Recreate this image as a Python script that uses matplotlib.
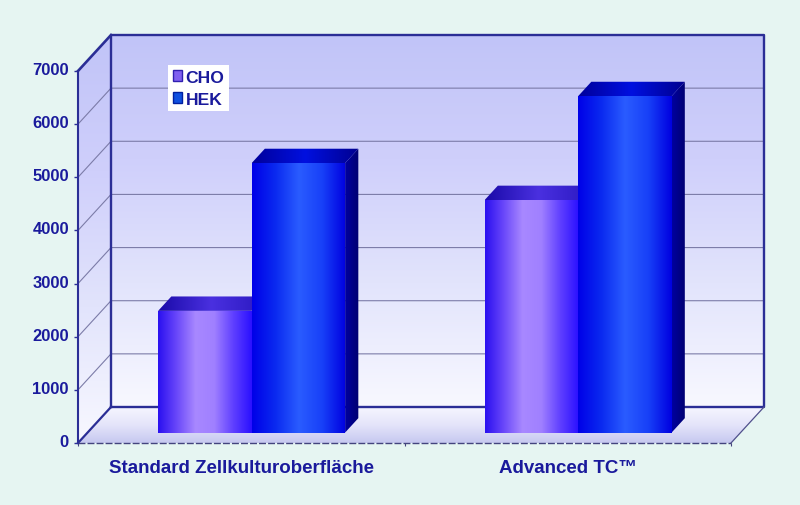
import numpy as np
import matplotlib
matplotlib.use("Agg")
import matplotlib.pyplot as plt
from matplotlib.colors import LinearSegmentedColormap as LSC
from matplotlib.patches import Polygon, Patch
from matplotlib.transforms import ScaledTranslation

categories = ["Standard Zellkulturoberfläche", "Advanced TC™"]
cho = [2290, 4375]
hek = [5070, 6330]
series_names = ["CHO", "HEK"]
yticks = [0, 1000, 2000, 3000, 4000, 5000, 6000, 7000]

plt.rcParams["font.family"] = ["Liberation Sans", "DejaVu Sans"]
BG = "#E6F5F2"
INK = "#1A1A9C"
W, H = 800, 506
fig = plt.figure(figsize=(W / 100, H / 100), dpi=100, facecolor=BG)
ax = fig.add_axes([78 / W, (H - 444) / H, 653 / W, 372 / H])
ax.set_facecolor("none")
XMAX, YMAX = 2.0, 7000.0
DX = 33 / 653 * XMAX
DY = 36 / 372 * YMAX
BAR_W = 93.5 / 653 * XMAX
Z0, Z1 = 0.29, 0.69
X_NUDGE = 0.8 / 653 * XMAX


def P(x, y, z):
    return (x + z * DX, y + z * DY)


def grad(poly, colors, vertical=False, zorder=1):
    poly = np.array(poly)
    cmap = LSC.from_list("g", colors)
    arr = np.linspace(0, 1, 256)
    arr = arr.reshape(-1, 1) if vertical else arr.reshape(1, -1)
    ext = [poly[:, 0].min(), poly[:, 0].max(), poly[:, 1].min(), poly[:, 1].max()]
    im = ax.imshow(arr, cmap=cmap, extent=ext, origin="upper" if vertical else "lower",
                   aspect="auto", zorder=zorder, interpolation="bilinear")
    patch = Polygon(poly, closed=True, transform=ax.transData, facecolor="none", edgecolor="none")
    ax.add_patch(patch)
    patch.set_clip_on(False)
    im.set_clip_path(patch)
    im.set_clip_box(fig.bbox)


wall_cols = ["#C1C4F8", "#CFCFFB", "#E2E4FC", "#F8F8FF"]
# back wall, left wall, floor
grad([P(0, 0, 1), P(XMAX, 0, 1), P(XMAX, YMAX, 1), P(0, YMAX, 1)], wall_cols, True, 1)
grad([P(0, 0, 0), P(0, 0, 1), P(0, YMAX, 1), P(0, YMAX, 0)], wall_cols, True, 1)
grad([P(0, 0, 0), P(XMAX, 0, 0), P(XMAX, 0, 1), P(0, 0, 1)],
     ["#F6F6FF", "#E4E4FA", "#C6C8F0"], True, 1)

# gridlines
for v in yticks[1:-1]:
    a, b, c = P(0, v, 0), P(0, v, 1), P(XMAX, v, 1)
    ax.plot([a[0], b[0], c[0]], [a[1], b[1], c[1]], color="#7C7CA8", lw=0.8, zorder=2, clip_on=False)

# frame
NAVY = "#2B2E96"
a, b, c, d = P(0, 0, 1), P(0, YMAX, 1), P(XMAX, YMAX, 1), P(XMAX, 0, 1)
ax.plot([a[0], b[0], c[0], d[0], a[0]], [a[1], b[1], c[1], d[1], a[1]], color=NAVY, lw=1.7, zorder=3, clip_on=False)
e, f = P(0, 0, 0), P(0, YMAX, 0)
ax.plot([e[0], a[0]], [e[1], a[1]], color=NAVY, lw=1.6, zorder=3, clip_on=False)
ax.plot([f[0], b[0]], [f[1], b[1]], color=NAVY, lw=1.9, zorder=3, clip_on=False)
g = P(XMAX, 0, 0)
ax.plot([g[0], d[0]], [g[1], d[1]], color="#50508C", lw=0.9, zorder=3, clip_on=False)
ax.plot([e[0], g[0]], [e[1], g[1]], color="#44447E", lw=1.0, ls=(0, (5, 1.5)), zorder=3, clip_on=False)
ax.plot([e[0], f[0]], [e[1], f[1]], color=NAVY, lw=1.5, zorder=3, clip_on=False)

# bars
STYLES = [
    dict(front=["#2A10F0", "#6A48FA", "#A888FF", "#A080FF", "#6040FF", "#2A10FF"],
         top=["#1A0AA8", "#4A30E0", "#2A18C0"],
         side=["#10108A", "#08086A"]),
    dict(front=["#0000E8", "#0A2AF0", "#2A5CFF", "#1840F8", "#0000E0"],
         top=["#00009A", "#0010E0", "#000090"],
         side=["#0000A0", "#000070"]),
]


def bar(x0, val, st, z):
    x1 = x0 + BAR_W
    grad([P(x1, 0, Z0), P(x1, 0, Z1), P(x1, val, Z1), P(x1, val, Z0)], st["side"], False, z)
    grad([P(x0, val, Z0), P(x1, val, Z0), P(x1, val, Z1), P(x0, val, Z1)], st["top"], False, z + 0.1)
    grad([P(x0, 0, Z0), P(x1, 0, Z0), P(x1, val, Z0), P(x0, val, Z0)], st["front"], False, z + 0.2)


for i in range(len(categories)):
    centre = i + 0.5 + X_NUDGE
    bar(centre - BAR_W, cho[i], STYLES[0], 4 + i)
    bar(centre, hek[i], STYLES[1], 4.5 + i)

ax.set_xlim(0, XMAX)
ax.set_ylim(0, YMAX)
for s in ax.spines.values():
    s.set_visible(False)
ax.set_yticks(yticks)
ax.set_yticklabels([str(v) for v in yticks], fontsize=11.9, fontweight="bold", color=INK)
ax.tick_params(axis="y", length=3, width=1.0, color=NAVY, pad=3.5)
shift = ScaledTranslation(0, 3 / 100, fig.dpi_scale_trans)
for t in ax.get_yticklabels():
    t.set_transform(t.get_transform() + shift)
ax.set_xticks([i + 0.5 for i in range(len(categories))])
ax.set_xticklabels(categories, fontsize=13.5, fontweight="bold", color=INK)
ax.tick_params(axis="x", length=0, pad=11.5)
ax.set_xticks([0, 1, 2], minor=True)
ax.tick_params(axis="x", which="minor", length=2.5, width=0.8, color="#44447E")

handles = [Patch(facecolor="#8060F0", edgecolor="#3020B0", lw=1),
           Patch(facecolor="#1050E0", edgecolor="#0020A0", lw=1)]
leg = ax.legend(handles, series_names, loc="upper left", bbox_to_anchor=(90 / 653, 378 / 372),
                borderaxespad=0, frameon=True, fancybox=False, framealpha=1, facecolor="white",
                edgecolor="none", handlelength=0.55, handleheight=0.55, handletextpad=0.2,
                labelspacing=0.4, borderpad=0.26, prop={"size": 12.6, "weight": "bold"},
                labelcolor=INK)
leg.set_zorder(8)

fig.savefig("out.png", dpi=100, facecolor=BG)
